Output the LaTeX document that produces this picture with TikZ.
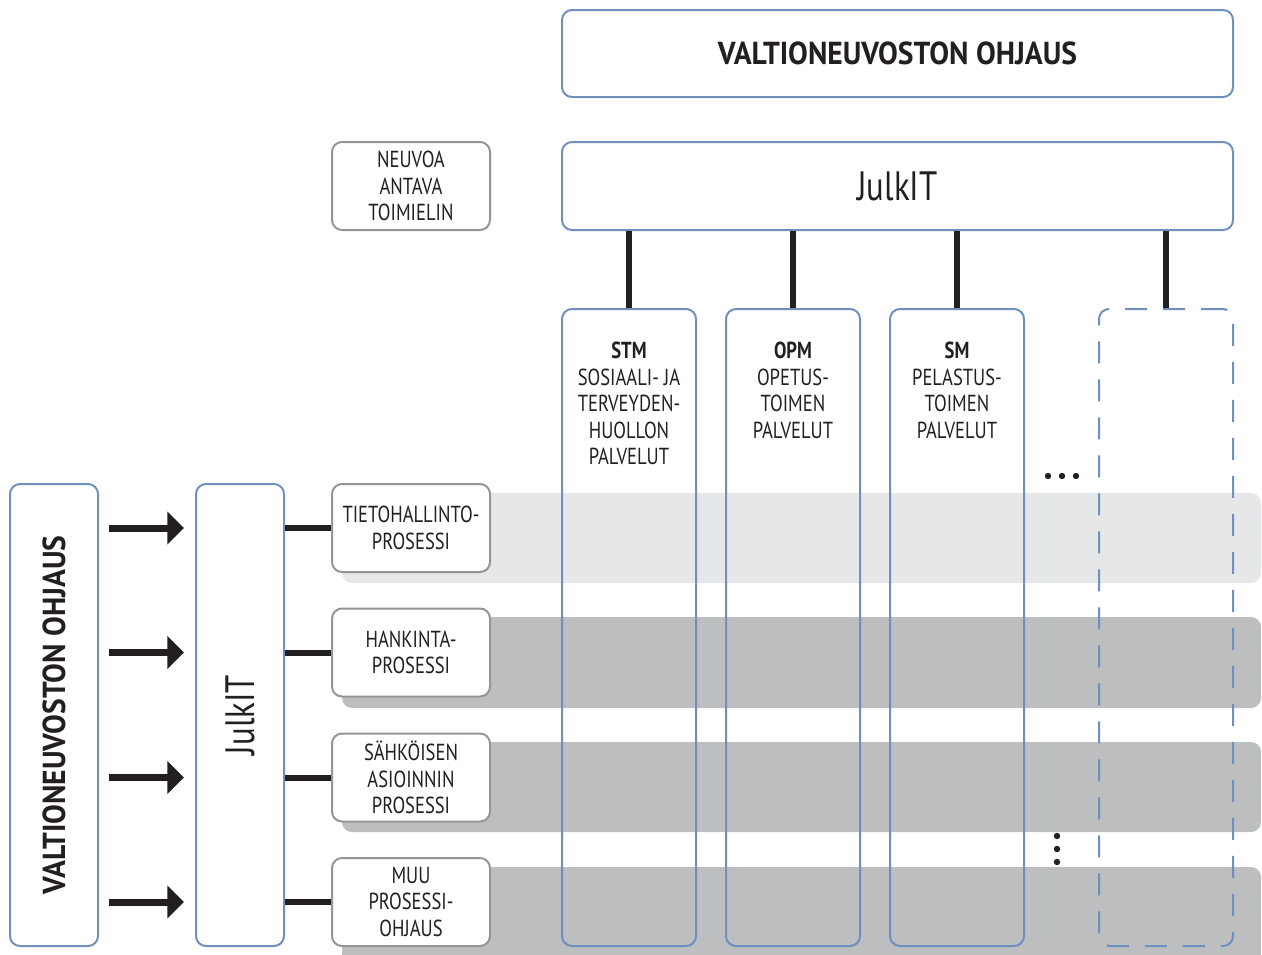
\documentclass[tikz,border=0pt]{standalone}
\usepackage{fontspec}
\setmainfont[FakeStretch=0.8]{PT Sans}
\newfontfamily\titlefont[FakeStretch=0.93]{PT Sans}
\usetikzlibrary{arrows.meta}
\definecolor{bl}{HTML}{6F8FBF}
\definecolor{gb}{HTML}{939598}
\definecolor{bandA}{HTML}{E6E7E8}
\definecolor{bandB}{HTML}{BCBEC0}
\definecolor{tx}{HTML}{231F20}
\begin{document}
\begin{tikzpicture}[x=0.5pt,y=-0.5pt,
  bluebox/.style={draw=bl, line width=1pt, rounded corners=5pt, inner sep=0pt, text=tx},
  dashbox/.style={draw=bl, line width=1pt, rounded corners=5pt, inner sep=0pt, dash pattern=on 11pt off 8pt},
  procbox/.style={draw=gb, line width=1pt, rounded corners=5pt, fill=white, minimum width=79pt, minimum height=44pt, align=center, font=\fontsize{11.6}{13.25}\selectfont, text=tx, inner sep=0pt},
  coltext/.style={align=center, font=\fontsize{11.6}{13.25}\selectfont, text=tx, inner sep=0pt, anchor=north},
  title/.style={font=\titlefont\bfseries\fontsize{15.9}{18}\selectfont, text=tx},
  jtitle/.style={font=\fontsize{20.5}{24}\selectfont, text=tx},
  conn/.style={draw=tx, line width=3pt},
  arr/.style={draw=tx, line width=3.5pt, -{Triangle[length=8.3pt,width=16pt]}},
  band/.style={rounded corners=5pt},
  dotm/.style={fill=tx}
]
\useasboundingbox (0,0) rectangle (1262,954);
\clip (0,0) rectangle (1262,954);

% bands
\fill[band, bandA] (342,493) rectangle (1261,583);
\fill[band, bandB] (342,617) rectangle (1261,708);
\fill[band, bandB] (342,742) rectangle (1261,832);
\fill[band, bandB] (342,867) rectangle (1261,970);

% top boxes
\node[bluebox, minimum width=335.5pt, minimum height=43.5pt, title] (vno) at (897.5,53.5) {VALTIONEUVOSTON OHJAUS};
\node[bluebox, minimum width=335.5pt, minimum height=44pt, jtitle] (jt) at (897.5,186) {JulkIT};
\node[procbox] (neuvoa) at (411,186) {NEUVOA\\ANTAVA\\TOIMIELIN};

% columns
\node[bluebox, minimum width=67pt, minimum height=318.5pt] (stm) at (629,627.5) {};
\node[bluebox, minimum width=67pt, minimum height=318.5pt] (opm) at (793,627.5) {};
\node[bluebox, minimum width=67pt, minimum height=318.5pt] (sm) at (957,627.5) {};
\node[dashbox, minimum width=67pt, minimum height=318.5pt] (dash) at (1166,627.5) {};

\node[coltext] (stmt) at ([yshift=-17pt]stm.north) {\textbf{STM}\\SOSIAALI- JA\\TERVEYDEN-\\HUOLLON\\PALVELUT};
\node[coltext] (opmt) at ([yshift=-17pt]opm.north) {\textbf{OPM}\\OPETUS-\\TOIMEN\\PALVELUT};
\node[coltext] (smt) at ([yshift=-17pt]sm.north) {\textbf{SM}\\PELASTUS-\\TOIMEN\\PALVELUT};

\draw[conn] (jt.south -| stm.north) -- (stm.north);
\draw[conn] (jt.south -| opm.north) -- (opm.north);
\draw[conn] (jt.south -| sm.north) -- (sm.north);
\draw[conn] (jt.south -| dash.north) -- (dash.north);

% left boxes
\node[bluebox, minimum width=44pt, minimum height=231pt] (vl) at (54,715) {};
\node[title, rotate=90] (vlt) at (vl.center) {VALTIONEUVOSTON OHJAUS};
\node[bluebox, minimum width=44pt, minimum height=231pt] (jl) at (240,715) {};
\node[jtitle, rotate=90] (jlt) at (jl.center) {JulkIT};

% process boxes
\node[procbox] (p1) at (411,528) {TIETOHALLINTO-\\PROSESSI};
\node[procbox] (p2) at (411,652.5) {HANKINTA-\\PROSESSI};
\node[procbox] (p3) at (411,777.5) {SÄHKÖISEN\\ASIOINNIN\\PROSESSI};
\node[procbox] (p4) at (411,902) {MUU\\PROSESSI-\\OHJAUS};

\foreach \p in {p1,p2,p3,p4}{
  \draw[arr, shorten <=5pt, shorten >=5.5pt] (vl.east |- \p.west) -- (jl.west |- \p.west);
  \draw[conn] (jl.east |- \p.west) -- (\p.west);
}

% dots
\coordinate (hd) at (1062,476);
\fill[dotm] ([xshift=-7pt]hd) circle (1.6pt) (hd) circle (1.6pt) ([xshift=7pt]hd) circle (1.6pt);
\coordinate (vd) at (1057,849);
\fill[dotm] ([yshift=6.5pt]vd) circle (1.6pt) (vd) circle (1.6pt) ([yshift=-6.5pt]vd) circle (1.6pt);
\end{tikzpicture}
\end{document}
